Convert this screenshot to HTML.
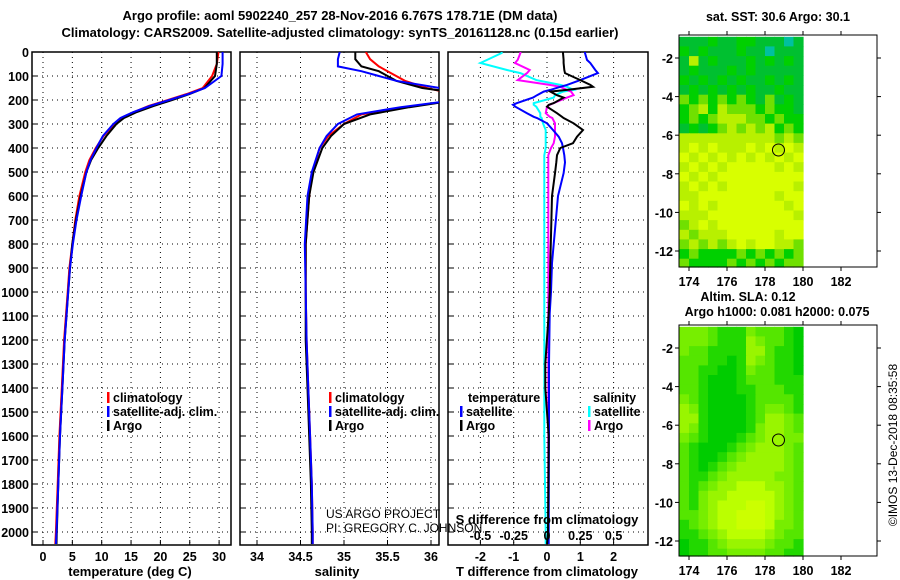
<!DOCTYPE html>
<html><head><meta charset="utf-8"><style>
body{margin:0;background:#fff;}
svg{display:block;font-family:"Liberation Sans",sans-serif;}
.b{font-weight:bold;font-size:13px;}
.t{font-weight:bold;font-size:12.5px;}
</style></head><body>
<svg id="s" width="900" height="580" xmlns="http://www.w3.org/2000/svg">
<text class="b" x="340" y="20" text-anchor="middle">Argo profile: aoml 5902240_257 28-Nov-2016 6.767S 178.71E (DM data)</text>
<text class="b" x="340" y="37" text-anchor="middle">Climatology: CARS2009. Satellite-adjusted climatology: synTS_20161128.nc (0.15d earlier)</text>
<g id="g"></g>
</svg>
<script>
// ---------- data ----------
const depthTicks=[0,100,200,300,400,500,600,700,800,900,1000,1100,1200,1300,1400,1500,1600,1700,1800,1900,2000];
const tTicks=[0,5,10,15,20,25,30];
const sTicks=[34,34.5,35,35.5,36];
const sTickLabels=["34","34.5","35","35.5","36"];
const dTTicks=[-2,-1,0,1,2];
const dSTicks=[-0.5,-0.25,0,0.25,0.5];
const dSTickLabels=["-0.5","-0.25","0","0.25","0.5"];

const tDepth=[0,50,100,150,175,200,225,250,275,300,350,400,450,500,600,700,800,900,1000,1200,1400,1600,1800,2000,2050];
const tArgo=[29.6,29.6,29.3,27.5,25,22,18.8,16,13.8,12.5,10.8,9.4,8.2,7.4,6.4,5.6,5,4.6,4.3,3.7,3.3,2.9,2.6,2.35,2.3];
const tClim=[29.9,29.6,28.8,27.2,24.5,21.3,18,15.5,13.5,12.2,10.3,9,7.9,7.2,6.2,5.5,5,4.5,4.2,3.6,3.2,2.8,2.5,2.2,2.1];
const tSat=[30.6,30.6,30.4,27.6,24.8,21.5,18.2,15.4,13.2,12,10.2,9.1,8.1,7.4,6.5,5.7,5.1,4.6,4.3,3.7,3.3,2.9,2.6,2.3,2.2];

const sDepth=[0,30,60,80,100,120,150,170,200,230,260,300,350,400,500,600,800,1000,1200,1400,1600,1800,2000,2050];
const sArgo=[35.13,35.13,35.2,35.4,35.5,35.6,35.9,36.3,36.3,35.75,35.3,35.0,34.85,34.75,34.65,34.6,34.56,34.56,34.56,34.58,34.6,34.62,34.63,34.63];
const sClim=[35.25,35.3,35.4,35.5,35.6,35.7,35.95,36.2,36.3,35.7,35.2,35.0,34.82,34.72,34.64,34.6,34.56,34.56,34.57,34.59,34.61,34.63,34.64,34.64];
const sSat=[34.95,34.93,34.93,35.2,35.4,35.6,36.1,36.3,36.3,35.65,35.15,34.93,34.8,34.72,34.63,34.58,34.55,34.56,34.57,34.59,34.61,34.63,34.64,34.64];

const dDepth=[0,4,33,46,75,88,117,137,145,158,165,180,190,213,220,228,255,270,275,297,325,353,380,400,430,460,505,600,880,1000,1090,1300,1400,1600,2000,2050];
const dTArgo=[0.48,0.48,0.5,0.5,0.52,0.54,1.0,1.3,1.38,0.6,0.1,0.3,0.5,0.2,0.05,0.0,0.3,0.45,0.5,0.8,1.08,0.9,0.78,0.4,0.3,0.28,0.24,0.15,0.1,0.08,0.05,-0.05,-0.05,0.05,0.03,0.0];
const dTSat=[1.14,1.14,1.2,1.3,1.45,1.53,1.0,0.6,0.4,0.1,-0.1,-0.3,-0.42,-0.9,-1.02,-0.95,-0.6,-0.4,-0.3,0.0,0.18,0.35,0.45,0.48,0.52,0.54,0.5,0.33,0.15,0.12,0.08,0.06,0.06,0.06,0.05,0.05];
const dSSat=[-0.34,-0.34,-0.45,-0.5,-0.3,-0.2,-0.08,0.1,0.15,0.2,0.12,0.06,0.05,-0.1,-0.1,-0.08,-0.05,-0.05,-0.04,-0.03,-0.01,-0.01,-0.01,-0.01,-0.02,-0.02,-0.02,-0.02,-0.02,-0.02,-0.02,-0.02,-0.02,-0.02,-0.01,-0.01];
const dSArgo=[-0.2,-0.2,-0.22,-0.24,-0.13,-0.15,-0.22,0.02,0.1,0.15,0.18,0.2,0.15,0.05,0.02,0.0,-0.01,0.02,0.04,0.06,0.06,0.06,0.05,0.03,0.01,0.01,0.01,0.01,0.01,0.01,0.01,0.01,0.01,0.01,0.01,0.01];

const mapLonTicks=[174,176,178,180,182];
const mapLatTicks=[-2,-4,-6,-8,-10,-12];
const sstRows=["1112112211101","2121112110111","1412111212121","1211121211111","2121212112121","1212121211211","3232323213121","2342433323221","2323444332322","1212343434232","4444444444343","4545444545454","5454545454545","4545455555454","5454555555555","4545455555554","4455555555455","5454555555545","4445555555554","3454555555555","4344455555455","3434345455443","2322223232323","3222232323233"];
const slaRows=["3332111322210","3332111432210","3221111442110","2221101432110","2211001322110","2210001222111","2210001122211","3210000122221","4310000123321","4410000124432","4310000134432","3210001234433","2100012344432","2100123444432","2101234444432","2112344444332","2123445554432","2134455555432","2134555665432","2234556665432","1234556665332","1123455554322","0112344443221","0112233332211"];
const argoLon=178.71, argoLat=-6.767;
const sstColors=["#00c0a0","#00c030","#00d000","#70e000","#b8f000","#d8ff00"];
const slaColors=["#00cc00","#22d800","#55e600","#77ee00","#99f500","#bbff00","#ccff00"];

// ---------- drawing ----------
const NS="http://www.w3.org/2000/svg";
const G=document.getElementById('g');
function mk(tag,attrs,parent){const e=document.createElementNS(NS,tag);for(const k in attrs)e.setAttribute(k,attrs[k]);(parent||G).appendChild(e);return e;}
function txt(x,y,s,cls,anchor){const e=mk('text',{x:x,y:y,'text-anchor':anchor||'middle'});if(cls)e.setAttribute('class',cls);e.textContent=s;return e;}
const yD=d=>52+0.24*d;
const Y0=52,Y1=545;

function panel(x0,x1,xs,ticks,labels,name){
  const r=mk('rect',{x:x0,y:Y0,width:x1-x0,height:Y1-Y0,fill:'none',stroke:'#000','stroke-width':1.5});
  
  
  ticks.forEach((v,i)=>{const x=xs(v);
    const l=mk('line',{x1:x,x2:x,y1:Y0,y2:Y1,stroke:'#000','stroke-dasharray':'1 4'});
    
    
    mk('line',{x1:x,x2:x,y1:Y1,y2:Y1-5,stroke:'#000'});
    if(labels){const t=txt(x,561,labels[i],'t');
      
      }
  });
  depthTicks.forEach(d=>{const y=yD(d);
    const l=mk('line',{x1:x0,x2:x1,y1:y,y2:y,stroke:'#000','stroke-dasharray':'1 4'});
    
    
    mk('line',{x1:x0,x2:x0+5,y1:y,y2:y,stroke:'#000'});
  });
}
function line(xs,vals,depths,color,clip,name){
  const p=vals.map((v,i)=>xs(v).toFixed(1)+','+yD(depths[i]).toFixed(1)).join(' ');
  const e=mk('polyline',{points:p,fill:'none',stroke:color,'stroke-width':2,'clip-path':'url(#'+clip+')'});
  
  
}
const defs=mk('defs',{});
[['c1',32,231],['c2',240,439],['c3',448,648]].forEach(c=>{const cp=mk('clipPath',{id:c[0]},defs);mk('rect',{x:c[1],y:Y0,width:c[2]-c[1],height:Y1-Y0},cp);});

depthTicks.forEach(d=>{const t=txt(29,yD(d)+5,String(d),'t','end');
  
  });

const xT=v=>43+v*5.87;
panel(32,231,xT,tTicks,tTicks.map(String),'temperature-panel');
line(xT,tClim,tDepth,'#f00','c1','temp-climatology-line');
line(xT,tArgo,tDepth,'#000','c1','temp-argo-line');
line(xT,tSat,tDepth,'#00f','c1','temp-satellite-line');
let e=txt(130,576,'temperature (deg C)','b');

const xS=v=>257+(v-34)*87;
panel(240,439,xS,sTicks,sTickLabels,'salinity-panel');
line(xS,sClim,sDepth,'#f00','c2','sal-climatology-line');
line(xS,sArgo,sDepth,'#000','c2','sal-argo-line');
line(xS,sSat,sDepth,'#00f','c2','sal-satellite-line');
e=txt(337,576,'salinity','b');

function leg(x,y,color,label,name){
  const r=mk('rect',{x:x,y:y-10,width:2.5,height:11,fill:color});
  
  
  const t=txt(x+6,y,label,'t','start');
  
  
}
[[107],[329]].forEach((p,i)=>{
  leg(p[0],402,'#f00','climatology','legend-climatology-'+(i+1));
  leg(p[0],416,'#00f','satellite-adj. clim.','legend-satellite-'+(i+1));
  leg(p[0],430,'#000','Argo','legend-argo-'+(i+1));
});
e=txt(326,518,'US ARGO PROJECT',null,'start');e.setAttribute('font-size','12');
e=txt(326,532,'PI: GREGORY C. JOHNSON',null,'start');e.setAttribute('font-size','12');

const xDT=v=>547+v*33.3;
const xDS=v=>547+v*133.2;
panel(448,648,xDT,dTTicks,dTTicks.map(String),'difference-panel');
line(xDS,dSSat,dDepth,'#0ff','c3','sal-diff-satellite-line');
line(xDS,dSArgo,dDepth,'#f0f','c3','sal-diff-argo-line');
line(xDT,dTSat,dDepth,'#00f','c3','temp-diff-satellite-line');
line(xDT,dTArgo,dDepth,'#000','c3','temp-diff-argo-line');
dSTicks.forEach((v,i)=>{e=txt(xDS(v),540,dSTickLabels[i],'t');});
e=txt(547,524,'S difference from climatology','b');
e=txt(547,576,'T difference from climatology','b');
e=txt(468,402,'temperature','t','start');
e=txt(593,402,'salinity','t','start');
leg(460,416,'#00f','satellite','legend-temp-satellite');
leg(460,430,'#000','Argo','legend-temp-argo');
leg(588,416,'#0ff','satellite','legend-sal-satellite');
leg(588,430,'#f0f','Argo','legend-sal-argo');

function map(top,bot,rows,colors,name){
  const x0=679,x1=877;
  const lonX=l=>689+(l-174)*19;
  const latY=l=>(top+23)+(-2-l)*19.3;
  rows.forEach((row,ri)=>{
    for(let ci=0;ci<row.length;ci++){
      const lon=173.5+ci*0.5, lat=-0.9-ri*0.5;
      const xa=Math.max(x0,lonX(lon)), xb=lonX(lon+0.5);
      const ya=latY(lat), yb=Math.min(bot,latY(lat-0.5));
      const c=mk('rect',{x:xa.toFixed(1),y:ya.toFixed(1),width:(xb-xa+0.6).toFixed(1),height:(yb-ya+0.6).toFixed(1),fill:colors[+row[ci]]});
      
      
    }
  });
  const r=mk('rect',{x:x0,y:top,width:x1-x0,height:bot-top,fill:'none',stroke:'#000','stroke-width':1});
  
  
  mapLonTicks.forEach(l=>{const x=lonX(l);
    mk('line',{x1:x,x2:x,y1:bot,y2:bot+4,stroke:'#000'});mk('line',{x1:x,x2:x,y1:top,y2:top-4,stroke:'#000'});
    const t=txt(x,bot+19,String(l),'t');});
  mapLatTicks.forEach(l=>{const y=latY(l);
    mk('line',{x1:x0,x2:x0-4,y1:y,y2:y,stroke:'#000'});mk('line',{x1:x1,x2:x1+4,y1:y,y2:y,stroke:'#000'});
    const t=txt(673,y+5,String(l),'t','end');});
  const m=mk('circle',{cx:lonX(argoLon),cy:latY(argoLat),r:6,fill:'none',stroke:'#000','stroke-width':1});
  
  
}
map(35,267,sstRows,sstColors,'sst-map');
map(325,556,slaRows,slaColors,'sla-map');
e=txt(778,21,'sat. SST: 30.6 Argo: 30.1','t');
e=txt(748,301,'Altim. SLA: 0.12','t');
e=txt(777,316,'Argo h1000: 0.081 h2000: 0.075','t');
e=txt(0,0,'©IMOS 13-Dec-2018 08:35:58',null);e.setAttribute('font-size','12');e.setAttribute('transform','translate(897,445) rotate(-90)');
</script>
</body></html>
